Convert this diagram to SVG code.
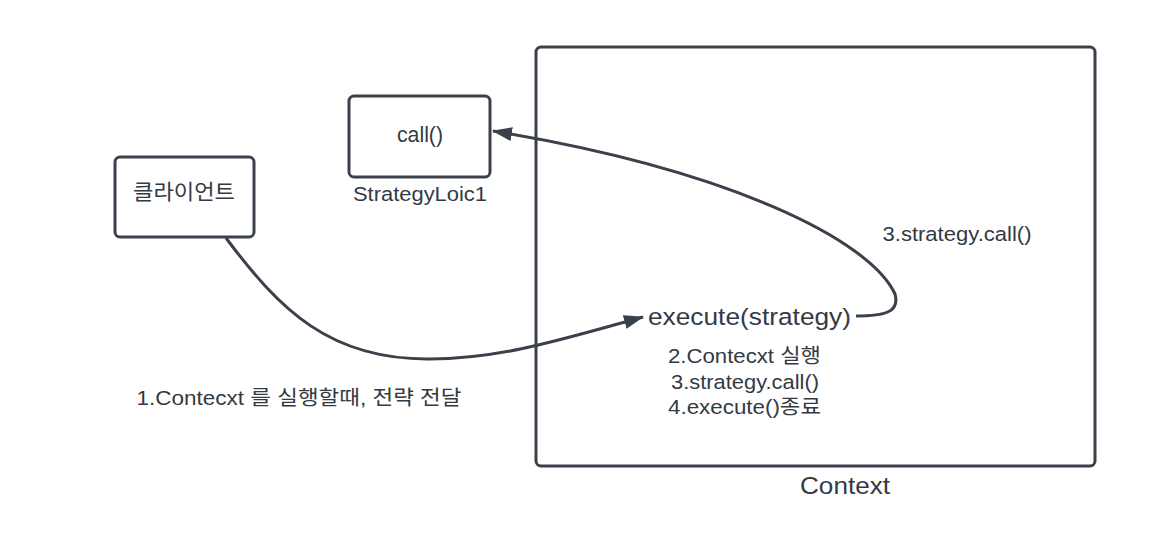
<svg xmlns="http://www.w3.org/2000/svg" width="1169" height="553" viewBox="0 0 1169 553">
<style>
.box{fill:#ffffff;stroke:#3a414a;stroke-width:3}
.t{font-family:"Liberation Sans","Noto Sans CJK KR",sans-serif;fill:#333a44;text-anchor:middle}
.ln{fill:none;stroke:#3a414a;stroke-width:3}
</style>
<defs>
<marker id="ah2" markerWidth="20" markerHeight="14" refX="19" refY="7" orient="auto" markerUnits="userSpaceOnUse" viewBox="0 0 20 14">
<path d="M0,0 L20,7 L0,14 z" fill="#3a414a"/>
</marker>
</defs>
<rect width="1169" height="553" fill="#ffffff"/>
<g id="context">
<rect class="box" x="536" y="47" width="559" height="419" rx="5"/>
<text class="t" x="845" y="494" font-size="23" textLength="90" lengthAdjust="spacingAndGlyphs">Context</text>
</g>
<g id="client">
<rect class="box" x="115" y="157" width="139" height="80" rx="5"/>
<text class="t" x="184" y="199" font-size="21" textLength="102" lengthAdjust="spacingAndGlyphs">클라이언트</text>
</g>
<g id="strategy">
<rect class="box" x="349" y="96" width="141" height="81" rx="5"/>
<text class="t" x="420" y="142" font-size="22" textLength="46" lengthAdjust="spacingAndGlyphs">call()</text>
<text class="t" x="420" y="201" font-size="20.5" textLength="134" lengthAdjust="spacingAndGlyphs">StrategyLoic1</text>
</g>
<g id="execute">
<text class="t" x="749.5" y="325" font-size="24.5" textLength="203" lengthAdjust="spacingAndGlyphs">execute(strategy)</text>
<text class="t" x="744.5" y="363" font-size="20.5" textLength="153" lengthAdjust="spacingAndGlyphs">2.Contecxt 실행</text>
<text class="t" x="745" y="389" font-size="20.5" textLength="148" lengthAdjust="spacingAndGlyphs">3.strategy.call()</text>
<text class="t" x="744.5" y="414" font-size="20.5" textLength="153" lengthAdjust="spacingAndGlyphs">4.execute()종료</text>
</g>
<g id="connectors">
<path class="ln" d="M226,238 C280,310 330,360 430,359 C500,359 560,340 643,317" marker-end="url(#ah2)"/>
<path class="ln" d="M856,316 C885,316 900,312 895,294 C870,240 730,170 493,131" marker-end="url(#ah2)"/>
<text class="t" x="957" y="241" font-size="20.5" textLength="149" lengthAdjust="spacingAndGlyphs">3.strategy.call()</text>
<text class="t" x="299" y="405" font-size="20.5" textLength="325" lengthAdjust="spacingAndGlyphs">1.Contecxt 를 실행할때, 전략 전달</text>
</g>
</svg>
